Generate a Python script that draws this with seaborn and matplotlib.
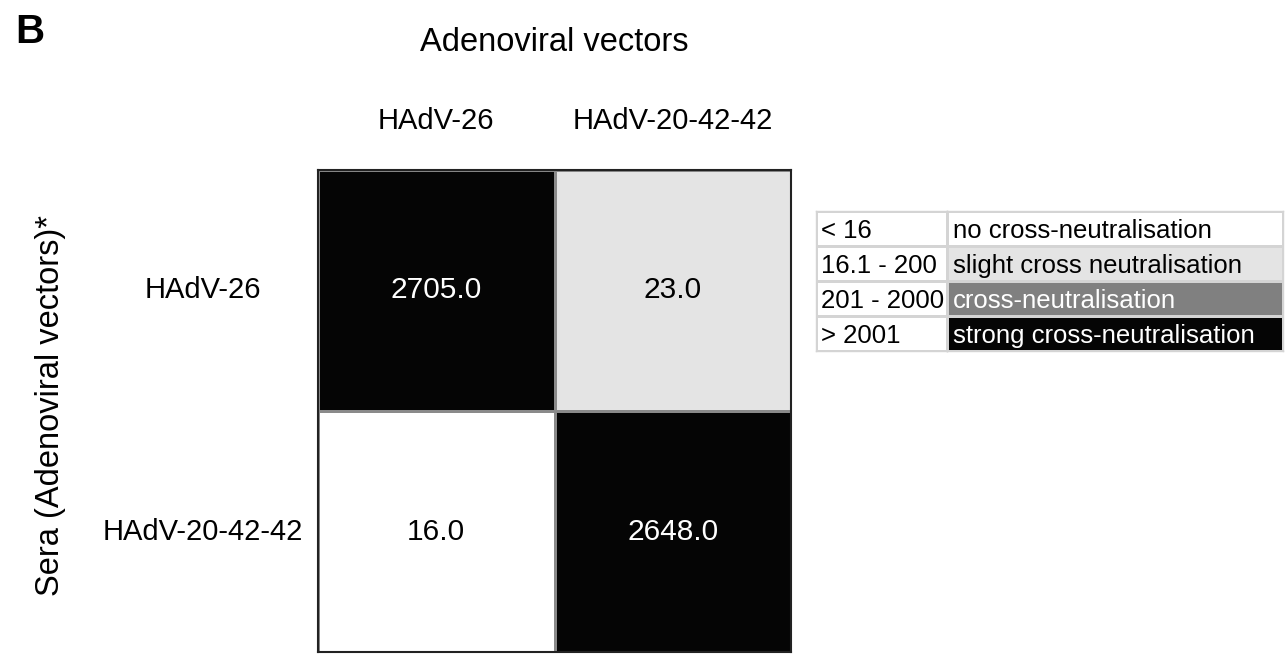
import matplotlib

matplotlib.use("Agg")
import matplotlib.pyplot as plt   # noqa: E402
import numpy as np                 # noqa: E402
import pandas as pd                # noqa: E402
import seaborn as sns              # noqa: E402
from matplotlib.colors import BoundaryNorm, ListedColormap  # noqa: E402

# ---------------------------------------------------------------------------
# Data
# ---------------------------------------------------------------------------
vectors = ["HAdV-26", "HAdV-20-42-42"]          # columns (adenoviral vectors)
sera = ["HAdV-26", "HAdV-20-42-42"]             # rows (sera)
titers = [[2705.0, 23.0],
          [16.0, 2648.0]]

ranges = ["< 16", "16.1 - 200", "201 - 2000", "> 2001"]
classes = ["no cross-neutralisation", "slight cross neutralisation",
           "cross-neutralisation", "strong cross-neutralisation"]
bounds = [0, 16.05, 200.5, 2000.5, 100000]
greys = ["#ffffff", "#e4e4e4", "#808080", "#050505"]
text_colors = ["black", "black", "white", "white"]

sns.set_theme(style="white")
plt.rcParams["font.family"] = ["Liberation Sans", "DejaVu Sans"]
plt.rcParams["text.color"] = "black"

W, H = 1285, 654
fig = plt.figure(figsize=(W / 100, H / 100), dpi=100)

cmap = ListedColormap(greys)
norm = BoundaryNorm(bounds, cmap.N)

# ---------------------------------------------------------------------------
# Main heatmap
# ---------------------------------------------------------------------------
ax = fig.add_axes([318 / W, 1 - 652 / H, 473 / W, (652 - 170) / H])
df = pd.DataFrame(titers, index=sera, columns=vectors)
sns.heatmap(df, ax=ax, cmap=cmap, norm=norm, cbar=False, annot=True, fmt=".1f",
            linewidths=1, linecolor="#8a8a8a",
            annot_kws={"fontsize": 21.5})
# seaborn uses ".15" for dark annotations; the figure uses pure black
for t in ax.texts:
    if t.get_color() != "w":
        t.set_color("black")
ax.set_xlabel(""); ax.set_ylabel("")
ax.xaxis.tick_top()
ax.tick_params(axis="x", length=0, pad=25, labelsize=21, colors="black")
ax.tick_params(axis="y", length=0, pad=83, labelsize=21, colors="black")
plt.setp(ax.get_yticklabels(), rotation=0, ha="center", va="center")
plt.setp(ax.get_xticklabels(), rotation=0)
for s in ax.spines.values():
    s.set_visible(True); s.set_color("#222222"); s.set_linewidth(1.5)

fig.text(554 / W, 1 - 51 / H, "Adenoviral vectors", ha="center", va="baseline",
         fontsize=23.5, color="black")
fig.text(51 / W, 1 - 406 / H, "Sera (Adenoviral vectors)*", ha="center", va="center",
         rotation=90, fontsize=23.5, color="black")
fig.text(15 / W, 1 - 43 / H, "B", ha="left", va="baseline", fontsize=29,
         fontweight="bold", color="black")

# ---------------------------------------------------------------------------
# Legend table (two heatmap columns)
# ---------------------------------------------------------------------------
top, bot = 211, 351
ax_r = fig.add_axes([816 / W, 1 - bot / H, 131 / W, (bot - top) / H])
ax_c = fig.add_axes([947 / W, 1 - bot / H, 336 / W, (bot - top) / H])

sns.heatmap(np.zeros((len(ranges), 1)), ax=ax_r, cmap=ListedColormap(["white"]),
            cbar=False, linewidths=1, linecolor="#d4d4d4",
            xticklabels=False, yticklabels=False)
sns.heatmap(np.arange(len(classes)).reshape(-1, 1), ax=ax_c, cmap=cmap,
            vmin=-0.5, vmax=len(classes) - 0.5, cbar=False,
            linewidths=1, linecolor="#d4d4d4",
            xticklabels=False, yticklabels=False)
for i, (r, c, tc) in enumerate(zip(ranges, classes, text_colors)):
    ax_r.text(0.04, i + 0.5, r, ha="left", va="center_baseline", fontsize=18.5,
              color="black")
    ax_c.text(0.018, i + 0.5, c, ha="left", va="center_baseline", fontsize=18.5,
              color=tc)
for a in (ax_r, ax_c):
    for s in a.spines.values():
        s.set_visible(True); s.set_color("#d4d4d4"); s.set_linewidth(1)

fig.savefig("out.png", dpi=100)
plt.close(fig)
